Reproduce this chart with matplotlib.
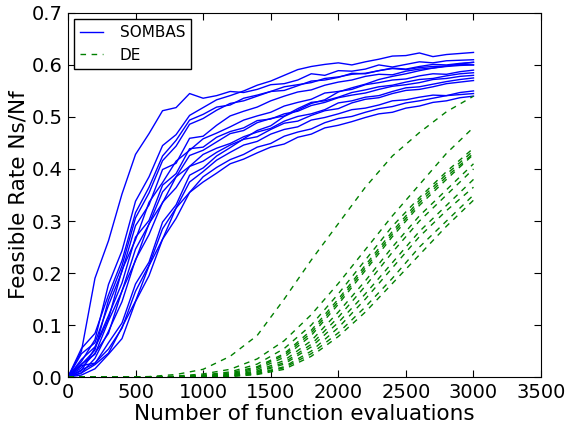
import numpy as np
import matplotlib
matplotlib.use('Agg')
import matplotlib.pyplot as plt

# evaluations at which the feasible rate was recorded
sombas_x = np.arange(0, 3001, 100)
de_x = np.arange(0, 3001, 200)

# SOMBAS runs (blue)
sombas_runs = [
    [0, 0.05, 0.19, 0.262, 0.352, 0.428, 0.468, 0.512, 0.518, 0.545, 0.536, 0.541, 0.549, 0.547, 0.553, 0.562,
     0.564, 0.571, 0.583, 0.58, 0.589, 0.588, 0.592, 0.6, 0.596, 0.601, 0.606, 0.604, 0.608, 0.609, 0.61],
    [0, 0.03, 0.072, 0.178, 0.243, 0.338, 0.385, 0.445, 0.466, 0.503, 0.518, 0.533, 0.541, 0.55, 0.561, 0.569,
     0.58, 0.591, 0.597, 0.601, 0.604, 0.6, 0.606, 0.611, 0.617, 0.618, 0.623, 0.616, 0.62, 0.622, 0.624],
    [0, 0.024, 0.052, 0.148, 0.214, 0.306, 0.354, 0.416, 0.444, 0.486, 0.497, 0.513, 0.526, 0.531, 0.54, 0.549,
     0.551, 0.56, 0.569, 0.571, 0.576, 0.584, 0.583, 0.589, 0.594, 0.592, 0.597, 0.601, 0.6, 0.603, 0.605],
    [0, 0.045, 0.066, 0.138, 0.203, 0.291, 0.331, 0.399, 0.411, 0.459, 0.463, 0.484, 0.502, 0.511, 0.519, 0.531,
     0.54, 0.548, 0.552, 0.561, 0.567, 0.571, 0.578, 0.582, 0.581, 0.588, 0.592, 0.594, 0.597, 0.599, 0.6],
    [0, 0.012, 0.056, 0.112, 0.206, 0.264, 0.336, 0.374, 0.415, 0.436, 0.458, 0.469, 0.481, 0.494, 0.502, 0.509,
     0.521, 0.528, 0.534, 0.546, 0.549, 0.553, 0.562, 0.566, 0.571, 0.573, 0.579, 0.583, 0.582, 0.587, 0.59],
    [0, 0.025, 0.044, 0.108, 0.165, 0.246, 0.294, 0.356, 0.385, 0.426, 0.436, 0.452, 0.468, 0.474, 0.489, 0.497,
     0.502, 0.516, 0.528, 0.531, 0.538, 0.547, 0.552, 0.558, 0.561, 0.567, 0.572, 0.574, 0.579, 0.583, 0.585],
    [0, 0.034, 0.058, 0.118, 0.181, 0.269, 0.301, 0.369, 0.391, 0.439, 0.442, 0.461, 0.472, 0.479, 0.493, 0.496,
     0.506, 0.511, 0.522, 0.528, 0.537, 0.542, 0.546, 0.553, 0.559, 0.562, 0.566, 0.572, 0.574, 0.578, 0.58],
    [0, 0.018, 0.046, 0.084, 0.166, 0.224, 0.295, 0.335, 0.385, 0.405, 0.428, 0.44, 0.449, 0.462, 0.471, 0.478,
     0.492, 0.501, 0.506, 0.514, 0.527, 0.531, 0.538, 0.541, 0.549, 0.556, 0.558, 0.563, 0.568, 0.572, 0.575],
    [0, 0.008, 0.036, 0.088, 0.145, 0.226, 0.274, 0.336, 0.364, 0.405, 0.415, 0.432, 0.446, 0.457, 0.462, 0.476,
     0.488, 0.492, 0.503, 0.512, 0.516, 0.527, 0.534, 0.537, 0.545, 0.551, 0.553, 0.558, 0.564, 0.567, 0.57],
    [0, 0.014, 0.026, 0.066, 0.104, 0.179, 0.221, 0.298, 0.331, 0.388, 0.402, 0.425, 0.441, 0.458, 0.474, 0.483,
     0.501, 0.513, 0.526, 0.533, 0.548, 0.556, 0.563, 0.572, 0.578, 0.583, 0.589, 0.594, 0.598, 0.602, 0.605],
    [0, 0.022, 0.027, 0.054, 0.094, 0.165, 0.215, 0.285, 0.325, 0.375, 0.395, 0.417, 0.432, 0.446, 0.453, 0.467,
     0.476, 0.481, 0.494, 0.499, 0.506, 0.514, 0.517, 0.523, 0.531, 0.533, 0.538, 0.542, 0.541, 0.547, 0.55],
    [0, 0.008, 0.024, 0.046, 0.096, 0.146, 0.214, 0.265, 0.325, 0.355, 0.385, 0.403, 0.418, 0.428, 0.442, 0.449,
     0.463, 0.471, 0.477, 0.489, 0.497, 0.501, 0.509, 0.516, 0.52, 0.527, 0.531, 0.536, 0.541, 0.543, 0.545],
    [0, 0.004, 0.016, 0.044, 0.074, 0.145, 0.195, 0.265, 0.305, 0.355, 0.375, 0.392, 0.41, 0.419, 0.431, 0.442,
     0.448, 0.461, 0.467, 0.479, 0.484, 0.491, 0.499, 0.506, 0.509, 0.517, 0.521, 0.528, 0.531, 0.537, 0.54],
    [0, 0.055, 0.084, 0.158, 0.224, 0.316, 0.365, 0.425, 0.455, 0.494, 0.505, 0.519, 0.523, 0.536, 0.542, 0.549,
     0.558, 0.562, 0.566, 0.574, 0.577, 0.582, 0.584, 0.589, 0.593, 0.591, 0.595, 0.597, 0.598, 0.601, 0.6],
]

# DE runs (green)
de_runs = [
    [0, 0, 0, 0.001, 0.005, 0.015, 0.04, 0.08, 0.15, 0.225, 0.295, 0.365, 0.425, 0.47, 0.51, 0.54],
    [0, 0, 0, 0, 0.002, 0.006, 0.015, 0.035, 0.07, 0.12, 0.18, 0.245, 0.31, 0.37, 0.43, 0.48],
    [0, 0, 0, 0, 0.001, 0.004, 0.01, 0.025, 0.055, 0.1, 0.16, 0.225, 0.29, 0.345, 0.395, 0.44],
    [0, 0, 0, 0, 0.001, 0.003, 0.008, 0.02, 0.045, 0.09, 0.15, 0.215, 0.28, 0.34, 0.39, 0.435],
    [0, 0, 0, 0, 0, 0.002, 0.006, 0.018, 0.042, 0.085, 0.145, 0.21, 0.275, 0.335, 0.385, 0.43],
    [0, 0, 0, 0, 0, 0.002, 0.005, 0.015, 0.038, 0.08, 0.14, 0.205, 0.27, 0.33, 0.38, 0.428],
    [0, 0, 0, 0, 0, 0.001, 0.004, 0.012, 0.032, 0.07, 0.125, 0.185, 0.25, 0.31, 0.36, 0.41],
    [0, 0, 0, 0, 0, 0.001, 0.003, 0.01, 0.028, 0.063, 0.115, 0.175, 0.24, 0.3, 0.35, 0.40],
    [0, 0, 0, 0, 0, 0.001, 0.003, 0.009, 0.025, 0.058, 0.105, 0.16, 0.22, 0.28, 0.33, 0.38],
    [0, 0, 0, 0, 0, 0, 0.002, 0.007, 0.02, 0.05, 0.095, 0.15, 0.21, 0.27, 0.32, 0.365],
    [0, 0, 0, 0, 0, 0, 0.002, 0.006, 0.018, 0.045, 0.085, 0.135, 0.19, 0.25, 0.3, 0.35],
    [0, 0, 0, 0, 0, 0, 0.001, 0.005, 0.015, 0.04, 0.078, 0.125, 0.18, 0.235, 0.29, 0.34],
]

fig = plt.figure(figsize=(5.66, 4.30), dpi=100)
ax = fig.add_axes([0.120, 0.123, 0.836, 0.847])

for i, run in enumerate(sombas_runs):
    ax.plot(sombas_x, run, '-', color='#0000ff', lw=1.0, label='SOMBAS' if i == 0 else None)
for i, run in enumerate(de_runs):
    ax.plot(de_x, run, '--', color='#008000', lw=1.0, dashes=(4, 4), label='DE' if i == 0 else None)

ax.set_xlim(0, 3500)
ax.set_ylim(0, 0.7)
ax.set_xticks(np.arange(0, 3501, 500))
ax.set_yticks(np.arange(0, 0.71, 0.1))
ax.set_yticklabels(['%.1f' % v for v in np.arange(0, 0.71, 0.1)])
ax.tick_params(direction='in', top=True, right=True, length=5, labelsize=14, pad=4)
ax.set_xlabel('Number of function evaluations', fontsize=15.5, labelpad=2)
ax.set_ylabel('Feasible Rate Ns/Nf', fontsize=15.5, labelpad=2)

leg = ax.legend(loc='upper left', fontsize=11, fancybox=False, framealpha=1,
                edgecolor='black', handlelength=1.5, handletextpad=1.1,
                borderaxespad=0.4)
leg.get_frame().set_linewidth(1.0)

fig.savefig('out.png', dpi=100)
